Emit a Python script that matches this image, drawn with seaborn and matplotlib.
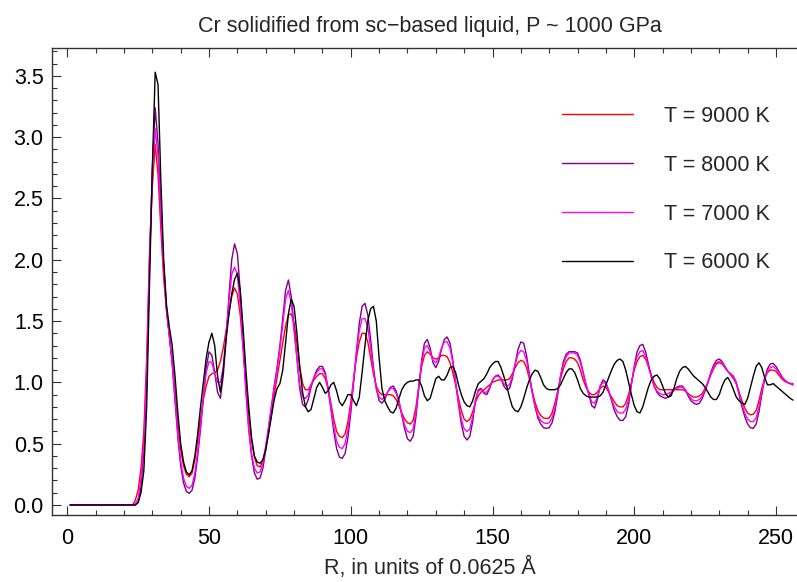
import numpy as np
import pandas as pd
import matplotlib
matplotlib.use("Agg")
import matplotlib.pyplot as plt
from matplotlib.ticker import MultipleLocator
import seaborn as sns

# ---------------- data ----------------
labels = ["T = 9000 K", "T = 8000 K", "T = 7000 K", "T = 6000 K"]
colors = ["#ff0000", "#800080", "#ff00ff", "#000000"]

zeros_head = [0.0] * 22   # R = 1 .. 22

g_9000 = zeros_head + [
    0.0, 0.04, 0.12, 0.3, 0.6, 1.2, 2.05,
    2.6, 2.94, 2.7, 2.25, 1.85, 1.58, 1.38, 1.18, 0.92, 0.66,
    0.45, 0.32, 0.25, 0.23, 0.26, 0.37, 0.53, 0.7, 0.86, 0.97,
    1.05, 1.07, 1.08, 1.1, 1.17, 1.28, 1.42, 1.57, 1.7, 1.77,
    1.72, 1.55, 1.28, 1.0, 0.74, 0.52, 0.39, 0.32, 0.31, 0.36,
    0.47, 0.6, 0.75, 0.9, 1.04, 1.18, 1.32, 1.46, 1.55, 1.56,
    1.48, 1.32, 1.13, 0.99, 0.94, 0.94, 0.98, 1.02, 1.05, 1.07,
    1.07, 1.03, 0.95, 0.83, 0.7, 0.6, 0.56, 0.55, 0.58, 0.68,
    0.84, 1.02, 1.2, 1.33, 1.4, 1.4, 1.33, 1.2, 1.07, 0.97,
    0.92, 0.9, 0.9, 0.9, 0.9, 0.89, 0.86, 0.81, 0.75, 0.7,
    0.67, 0.66, 0.69, 0.8, 0.97, 1.13, 1.22, 1.25, 1.23, 1.2,
    1.19, 1.2, 1.22, 1.22, 1.21, 1.16, 1.08, 0.98, 0.87, 0.77,
    0.7, 0.68, 0.7, 0.76, 0.84, 0.89, 0.92, 0.94, 0.96, 0.98,
    1.0, 1.01, 1.02, 1.02, 1.02, 1.02, 1.03, 1.07, 1.12, 1.16,
    1.18, 1.17, 1.12, 1.03, 0.93, 0.84, 0.77, 0.73, 0.71, 0.705,
    0.71, 0.75, 0.83, 0.93, 1.03, 1.11, 1.17, 1.2, 1.2, 1.19,
    1.16, 1.1, 1.02, 0.96, 0.92, 0.9, 0.9, 0.92, 0.95, 0.97,
    0.96, 0.92, 0.88, 0.84, 0.81, 0.8, 0.8, 0.83, 0.9, 1.0,
    1.1, 1.17, 1.21, 1.22, 1.19, 1.13, 1.06, 1.0, 0.96, 0.94,
    0.94, 0.94, 0.94, 0.94, 0.94, 0.94, 0.94, 0.94, 0.93, 0.91,
    0.89, 0.88, 0.88, 0.89, 0.91, 0.95, 1.0, 1.06, 1.11, 1.15,
    1.16, 1.15, 1.12, 1.09, 1.06, 1.03, 0.99, 0.92, 0.85, 0.79,
    0.75, 0.735, 0.74, 0.77, 0.85, 0.95, 1.03, 1.08, 1.1, 1.1,
    1.09, 1.06, 1.03, 1.01, 1.0, 0.99, 0.99,
]

g_8000 = zeros_head + [
    0.0, 0.0, 0.02, 0.15, 0.45, 1.0, 1.95,
    2.75, 3.24, 2.95, 2.4, 1.95, 1.6, 1.38, 1.15, 0.85, 0.55,
    0.32, 0.18, 0.11, 0.095, 0.12, 0.22, 0.4, 0.62, 0.88, 1.12,
    1.25, 1.22, 1.08, 0.92, 0.87, 1.05, 1.35, 1.7, 2.0, 2.13,
    2.05, 1.75, 1.35, 0.95, 0.62, 0.4, 0.26, 0.21, 0.22, 0.3,
    0.45, 0.62, 0.8, 0.97, 1.12, 1.3, 1.52, 1.75, 1.835, 1.7,
    1.45, 1.2, 0.95, 0.82, 0.8, 0.86, 0.96, 1.04, 1.1, 1.13,
    1.13, 1.08, 0.95, 0.78, 0.6, 0.46, 0.39, 0.38, 0.42, 0.55,
    0.75, 1.0, 1.25, 1.48, 1.62, 1.645, 1.55, 1.35, 1.12, 0.95,
    0.85, 0.83, 0.86, 0.92, 0.96, 0.97, 0.93, 0.85, 0.73, 0.62,
    0.54, 0.52, 0.56, 0.72, 0.95, 1.18, 1.32, 1.35, 1.28, 1.16,
    1.12, 1.17, 1.27, 1.35, 1.37, 1.32, 1.18, 1.0, 0.82, 0.66,
    0.56, 0.53, 0.56, 0.68, 0.85, 0.94, 0.95, 0.91, 0.9, 0.95,
    1.02, 1.05, 1.06, 1.03, 0.97, 0.94, 0.95, 1.03, 1.15, 1.27,
    1.33, 1.32, 1.22, 1.07, 0.92, 0.8, 0.71, 0.66, 0.63, 0.625,
    0.63, 0.67, 0.76, 0.9, 1.05, 1.17, 1.23, 1.25, 1.25, 1.25,
    1.24, 1.18, 1.08, 0.98, 0.9, 0.81, 0.79, 0.86, 0.97, 1.02,
    1.0, 0.93, 0.85, 0.77, 0.72, 0.69, 0.69, 0.72, 0.82, 0.98,
    1.13, 1.25, 1.3, 1.31, 1.25, 1.15, 1.05, 0.97, 0.92, 0.89,
    0.88, 0.87, 0.88, 0.91, 0.94, 0.96, 0.97, 0.97, 0.94, 0.89,
    0.85, 0.83, 0.82, 0.83, 0.87, 0.93, 1.0, 1.08, 1.14, 1.18,
    1.19, 1.17, 1.13, 1.09, 1.07, 1.05, 1.0, 0.9, 0.8, 0.72,
    0.66, 0.63, 0.625, 0.66, 0.76, 0.9, 1.03, 1.11, 1.15, 1.155,
    1.13, 1.09, 1.05, 1.02, 1.0, 0.99, 0.98,
]

g_7000 = zeros_head + [
    0.0, 0.01, 0.05, 0.22, 0.5, 1.08, 2.0,
    2.7, 3.07, 2.85, 2.35, 1.92, 1.6, 1.38, 1.16, 0.87, 0.58,
    0.36, 0.22, 0.15, 0.136, 0.16, 0.26, 0.44, 0.65, 0.88, 1.08,
    1.17, 1.16, 1.07, 1.0, 1.0, 1.12, 1.38, 1.66, 1.88, 1.94,
    1.88, 1.62, 1.28, 0.92, 0.62, 0.42, 0.3, 0.26, 0.27, 0.34,
    0.48, 0.64, 0.8, 0.96, 1.1, 1.27, 1.47, 1.68, 1.75, 1.65,
    1.42, 1.2, 0.98, 0.88, 0.87, 0.9, 0.98, 1.04, 1.08, 1.11,
    1.11, 1.06, 0.95, 0.8, 0.64, 0.52, 0.47, 0.46, 0.5, 0.62,
    0.8, 1.02, 1.24, 1.42, 1.52, 1.52, 1.45, 1.28, 1.09, 0.95,
    0.88, 0.86, 0.88, 0.92, 0.95, 0.95, 0.91, 0.84, 0.74, 0.65,
    0.6, 0.59, 0.62, 0.76, 0.97, 1.16, 1.28, 1.3, 1.25, 1.18,
    1.16, 1.2, 1.28, 1.33, 1.33, 1.28, 1.16, 1.0, 0.84, 0.7,
    0.62, 0.6, 0.62, 0.72, 0.86, 0.93, 0.94, 0.92, 0.92, 0.96,
    1.02, 1.05, 1.05, 1.03, 0.99, 0.97, 0.98, 1.05, 1.15, 1.23,
    1.26, 1.25, 1.18, 1.05, 0.92, 0.81, 0.73, 0.69, 0.67, 0.665,
    0.67, 0.71, 0.79, 0.92, 1.05, 1.15, 1.21, 1.24, 1.24, 1.24,
    1.22, 1.16, 1.07, 0.98, 0.91, 0.84, 0.83, 0.88, 0.97, 1.0,
    0.99, 0.93, 0.86, 0.8, 0.76, 0.75, 0.75, 0.78, 0.86, 0.99,
    1.12, 1.21, 1.25, 1.26, 1.21, 1.13, 1.04, 0.97, 0.93, 0.91,
    0.9, 0.9, 0.91, 0.92, 0.94, 0.95, 0.96, 0.96, 0.94, 0.9,
    0.87, 0.85, 0.85, 0.86, 0.89, 0.94, 1.0, 1.07, 1.12, 1.16,
    1.17, 1.16, 1.12, 1.09, 1.07, 1.04, 0.99, 0.91, 0.82, 0.75,
    0.7, 0.68, 0.68, 0.71, 0.8, 0.92, 1.03, 1.09, 1.12, 1.13,
    1.11, 1.08, 1.04, 1.02, 1.0, 0.99, 0.98,
]

g_6000 = zeros_head + [
    0.0, 0.0, 0.02, 0.1, 0.28, 0.8, 1.8,
    2.75, 3.53, 3.43, 2.65, 2.0, 1.63, 1.45, 1.3, 1.05, 0.75,
    0.5, 0.35, 0.27, 0.245, 0.28, 0.4, 0.58, 0.8, 1.0, 1.2,
    1.33, 1.4, 1.3, 1.05, 0.92, 1.1, 1.35, 1.55, 1.72, 1.84,
    1.89, 1.75, 1.45, 1.1, 0.8, 0.55, 0.4, 0.35, 0.34, 0.37,
    0.45, 0.58, 0.72, 0.86, 0.95, 0.99, 1.1, 1.32, 1.56, 1.68,
    1.62, 1.4, 1.12, 0.92, 0.8, 0.76, 0.78, 0.87, 0.96, 1.0,
    0.96, 0.91, 0.93, 0.98, 1.0, 0.93, 0.84, 0.81, 0.85, 0.9,
    0.9, 0.85, 0.81, 0.88, 1.08, 1.3, 1.5, 1.6, 1.62, 1.5,
    1.2, 0.95, 0.85, 0.8, 0.76, 0.75, 0.79, 0.87, 0.94, 0.98,
    1.0, 1.01, 1.01, 1.02, 1.02, 0.97, 0.89, 0.85, 0.87, 0.95,
    1.03, 1.05, 1.02, 1.02, 1.06, 1.12, 1.13, 1.08, 0.98, 0.9,
    0.84, 0.81, 0.8, 0.85, 0.93, 0.99, 1.01, 1.03, 1.07, 1.12,
    1.15, 1.17, 1.17, 1.12, 1.05, 0.97, 0.88, 0.8, 0.77, 0.76,
    0.8, 0.87, 0.95, 1.02, 1.07, 1.1, 1.09, 1.04, 0.98, 0.95,
    0.94, 0.94, 0.94, 0.95, 0.98, 1.03, 1.08, 1.11, 1.11, 1.08,
    1.02, 0.95, 0.91, 0.89, 0.88, 0.88, 0.88, 0.88, 0.89, 0.92,
    0.98, 1.04, 1.1, 1.15, 1.18, 1.19, 1.17, 1.1, 1.0, 0.9,
    0.81, 0.76, 0.75, 0.8, 0.88, 0.96, 1.02, 1.05, 1.06, 1.03,
    0.97, 0.91, 0.88, 0.89, 0.95, 1.03, 1.09, 1.12, 1.13, 1.11,
    1.08, 1.05, 1.03, 1.01, 0.99, 0.96, 0.92, 0.88, 0.86, 0.86,
    0.9, 0.97, 1.02, 1.04, 1.0, 0.94, 0.88, 0.85, 0.83, 0.82,
    0.87, 0.96, 1.05, 1.13, 1.16, 1.12, 1.04, 0.98, 0.98, 0.99,
    0.97, 0.95, 0.93, 0.91, 0.89, 0.87, 0.855,
]

series = [g_9000, g_8000, g_7000, g_6000]
for s in series:
    assert len(s) == 256, len(s)
r_grid = np.arange(1, 257)

frames = []
for lab, vals in zip(labels, series):
    frames.append(pd.DataFrame({"R": r_grid, "g": vals, "T": lab}))
df = pd.concat(frames, ignore_index=True)

# ---------------- style ----------------
sns.set_style("ticks")
plt.rcParams["font.family"] = ["Liberation Sans", "DejaVu Sans"]
FS = 15.5

W, H = 797, 582
fig = plt.figure(figsize=(W / 100, H / 100), dpi=100)
left_px, right_px, top_px, bottom_px = 52, 808, 48.3, 515
ax = fig.add_axes([left_px / W, 1 - bottom_px / H,
                   (right_px - left_px) / W, (bottom_px - top_px) / H])

sns.lineplot(data=df, x="R", y="g", hue="T", hue_order=labels,
             palette=dict(zip(labels, colors)), linewidth=1.0,
             ax=ax, legend=True, estimator=None)

ax.set_xlim(-5.4, 261.3)
ax.set_ylim(-0.082, 3.725)

ax.xaxis.set_major_locator(MultipleLocator(50))
ax.xaxis.set_minor_locator(MultipleLocator(10))
ax.yaxis.set_major_locator(MultipleLocator(0.5))
ax.yaxis.set_minor_locator(MultipleLocator(0.1))

spine_col = "#333333"
for sp in ax.spines.values():
    sp.set_visible(True)
    sp.set_color(spine_col)
    sp.set_linewidth(1.0)

ax.tick_params(which="both", direction="in", top=True, right=True,
               color=spine_col, width=0.8, labelsize=FS, labelcolor="black")
ax.tick_params(which="major", length=6.5)
ax.tick_params(which="minor", length=3.3)
ax.tick_params(axis="x", which="major", pad=9)
ax.tick_params(axis="y", which="major", pad=6)

ax.set_title("Cr solidified from sc\u2212based liquid, P ~ 1000 GPa",
             fontsize=FS, pad=12)
ax.set_xlabel("R, in units of 0.0625 \u00c5", fontsize=FS, labelpad=6)
ax.set_ylabel("")

handles, labs = ax.get_legend_handles_labels()
hmap = dict(zip(labs, handles))
leg = ax.legend([hmap[l] for l in labels], labels, loc="upper left",
                bbox_to_anchor=((562 - left_px) / (right_px - left_px),
                                1 - (106 - top_px) / (bottom_px - top_px)),
                frameon=False, fontsize=FS, handlelength=3.3,
                handletextpad=1.45, labelspacing=1.29, borderpad=0.0,
                borderaxespad=0.0)
for lh in leg.get_lines():
    lh.set_linewidth(1.0)

fig.savefig("out.png", dpi=100)
